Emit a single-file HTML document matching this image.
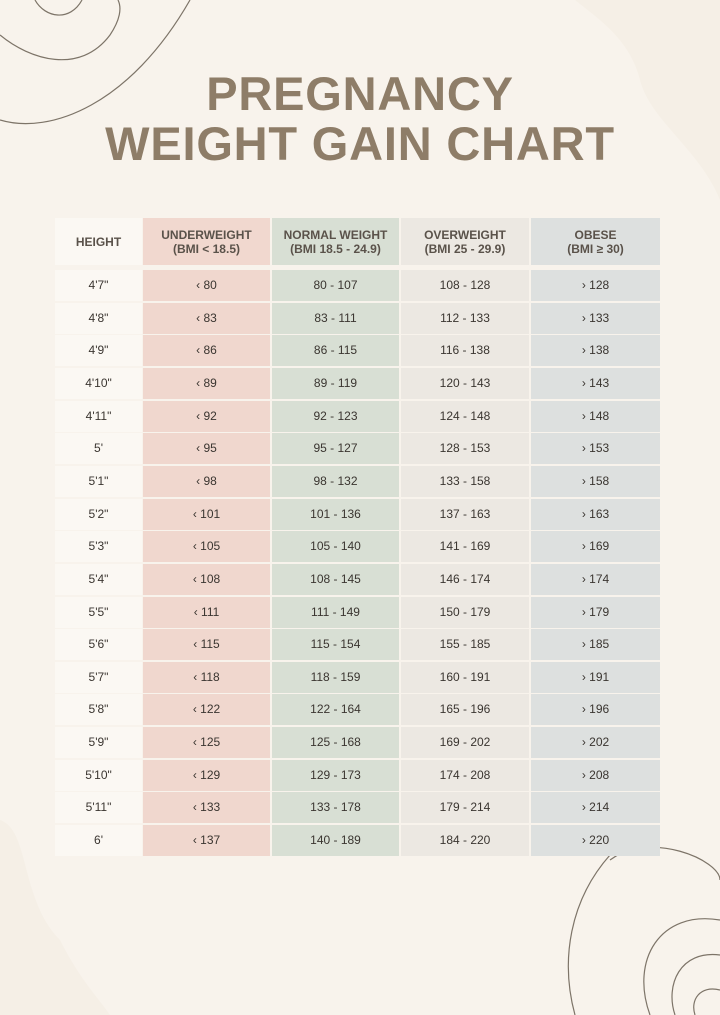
<!DOCTYPE html>
<html><head><meta charset="utf-8"><style>
body{margin:0;width:720px;height:1015px;background:#f8f3ec;position:relative;overflow:hidden;font-family:"Liberation Sans",sans-serif}
.t{position:absolute;left:0;width:720px;text-align:center;color:#8e7d68;font-weight:bold;font-size:47px;letter-spacing:0.8px}
.c{position:absolute;height:31px;line-height:31px;text-align:center;font-size:12px;color:#3a3530}
.h{position:absolute;top:218px;height:47px;display:flex;align-items:center;justify-content:center;text-align:center;font-size:12px;font-weight:bold;color:#5a524a;line-height:14px}
</style></head><body>
<svg width="720" height="1015" style="position:absolute;left:0;top:0">
<path d="M575 0 C600 20 630 40 640 80 C650 120 700 150 720 200 L720 0Z" fill="#f5efe6"/>
<path d="M0 820 C30 830 20 900 60 940 C80 980 100 1000 110 1015 L0 1015Z" fill="#f5efe6"/>
<g fill="none" stroke="#7d7468" stroke-width="1.2">
<path d="M0 35 C30 60 80 75 110 35 C120 20 122 8 118 0"/>
<path d="M0 120 C50 135 130 105 190 0"/>
<path d="M35 0 C45 18 70 22 82 0"/>
<path d="M610 860 C650 830 720 860 720 880"/>
<path d="M610 855 C570 900 560 960 575 1015"/>
<path d="M720 920 C660 910 630 960 650 1015"/>
<path d="M720 990 C700 985 690 1000 695 1015"/>
<path d="M720 955 C680 950 665 985 675 1015"/>
</g></svg>
<div class="t" style="top:66px">PREGNANCY</div>
<div class="t" style="top:116px">WEIGHT GAIN CHART</div>
<div class="h" style="left:55px;width:87px;background:#fbf8f3">HEIGHT</div>
<div class="h" style="left:143px;width:127px;background:#f1d8cf">UNDERWEIGHT<br>(BMI &lt; 18.5)</div>
<div class="h" style="left:272px;width:127px;background:#d8dfd4">NORMAL WEIGHT<br>(BMI 18.5 - 24.9)</div>
<div class="h" style="left:401px;width:128px;background:#ece8e2">OVERWEIGHT<br>(BMI 25 - 29.9)</div>
<div class="h" style="left:531px;width:129px;background:#dde0df">OBESE<br>(BMI ≥ 30)</div>
<div id="rows"></div>
<script>
var d=[["4'7\"","80","80 - 107","108 - 128","128"],["4'8\"","83","83 - 111","112 - 133","133"],["4'9\"","86","86 - 115","116 - 138","138"],["4'10\"","89","89 - 119","120 - 143","143"],["4'11\"","92","92 - 123","124 - 148","148"],["5'","95","95 - 127","128 - 153","153"],["5'1\"","98","98 - 132","133 - 158","158"],["5'2\"","101","101 - 136","137 - 163","163"],["5'3\"","105","105 - 140","141 - 169","169"],["5'4\"","108","108 - 145","146 - 174","174"],["5'5\"","111","111 - 149","150 - 179","179"],["5'6\"","115","115 - 154","155 - 185","185"],["5'7\"","118","118 - 159","160 - 191","191"],["5'8\"","122","122 - 164","165 - 196","196"],["5'9\"","125","125 - 168","169 - 202","202"],["5'10\"","129","129 - 173","174 - 208","208"],["5'11\"","133","133 - 178","179 - 214","214"],["6'","137","140 - 189","184 - 220","220"]];
var cols=[[55,87,"#fbf8f3"],[143,127,"#f0d7ce"],[272,127,"#d8dfd4"],[401,128,"#ece8e2"],[531,129,"#dde0df"]];
var h="";
d.forEach(function(r,i){var top=270+i*32.65;
r.forEach(function(v,j){var t=j==1?"‹ "+v:j==4?"› "+v:v;
h+='<div class="c" style="top:'+top+'px;left:'+cols[j][0]+'px;width:'+cols[j][1]+'px;background:'+cols[j][2]+'">'+t+'</div>';});});
document.getElementById("rows").innerHTML=h;
</script>
</body></html>
